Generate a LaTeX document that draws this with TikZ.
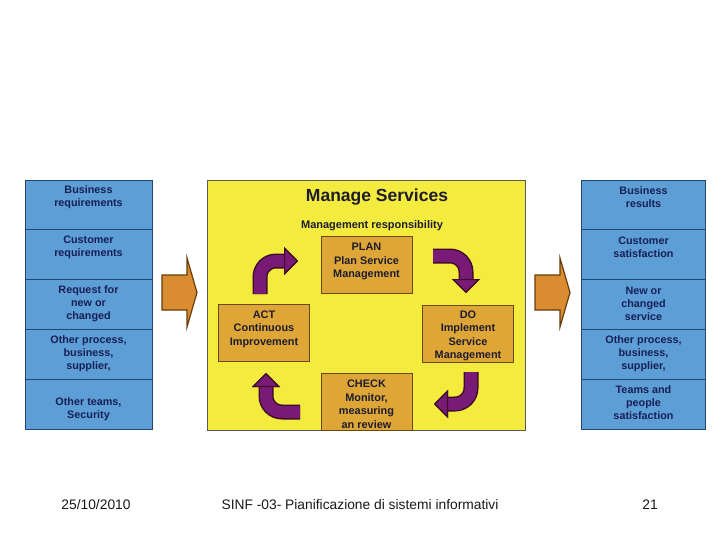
\documentclass[tikz,border=0pt]{standalone}
\usepackage{fontspec}
\setmainfont{Liberation Sans}
\usetikzlibrary{arrows.meta}
\definecolor{boxblue}{RGB}{93,158,214}
\definecolor{boxblueline}{RGB}{35,70,115}
\definecolor{navytext}{RGB}{22,32,85}
\definecolor{yellowbg}{RGB}{243,235,62}
\definecolor{goldbox}{RGB}{222,166,55}
\definecolor{goldline}{RGB}{105,72,20}
\definecolor{darktext}{RGB}{30,28,45}
\definecolor{purp}{RGB}{120,26,118}
\definecolor{purpdark}{RGB}{62,12,40}
\definecolor{orangearr}{RGB}{218,140,48}
\definecolor{orangeline}{RGB}{100,62,15}
\definecolor{foottext}{RGB}{25,25,25}
\tikzset{
  rowbox/.style={draw=boxblueline, line width=0.8pt, fill=boxblue, minimum width=127pt, minimum height=49.8pt, inner sep=0pt},
  rowtext/.style={text=navytext, font=\bfseries\fontsize{10.8}{13}\selectfont, align=center, inner sep=0pt},
  goldbx/.style={draw=goldline, line width=1pt, fill=goldbox, minimum width=91pt, minimum height=57pt, inner sep=0pt},
  goldtext/.style={text=darktext, font=\bfseries\fontsize{10.9}{13.5}\selectfont, align=center, inner sep=0pt},
  cyctip/.tip={Triangle[length=14pt,width=28pt,line width=1.2pt,color=purpdark,fill=purp]},
  cyc/.style={draw=purp, line width=12pt, rounded corners=16pt, -{cyctip},
    preaction={draw=purpdark, line width=15pt, -{cyctip}}},
  oarrow/.style={draw=orangeline, line width=1.2pt, fill=orangearr, line join=miter},
  foot/.style={text=foottext, font=\fontsize{13.8}{16}\selectfont, anchor=base, inner sep=0pt}
}
\begin{document}
\begin{tikzpicture}[x=1pt,y=-1pt]
\useasboundingbox (0,0) rectangle (720,540);
\fill[white] (0,0) rectangle (720,540);

% left column
\node[rowbox] (L1) at (88.5,204.9) {};
\node[rowbox] (L2) at (88.5,254.7) {};
\node[rowbox] (L3) at (88.5,304.5) {};
\node[rowbox] (L4) at (88.5,354.3) {};
\node[rowbox] (L5) at (88.5,404.1) {};
\node[rowtext] (L1t) at (88.5,197) {Business\\requirements};
\node[rowtext] (L2t) at (88.5,247) {Customer\\requirements};
\node[rowtext] (L3t) at (88.5,303.5) {Request for\\new or\\changed};
\node[rowtext] (L4t) at (88.5,354) {Other process,\\business,\\supplier,};
\node[rowtext] (L5t) at (88.5,409) {Other teams,\\Security};

% right column
\node[rowbox, minimum width=124pt] (R1) at (643.5,204.9) {};
\node[rowbox, minimum width=124pt] (R2) at (643.5,254.7) {};
\node[rowbox, minimum width=124pt] (R3) at (643.5,304.5) {};
\node[rowbox, minimum width=124pt] (R4) at (643.5,354.3) {};
\node[rowbox, minimum width=124pt] (R5) at (643.5,404.1) {};
\node[rowtext] (R1t) at (643.5,197) {Business\\results};
\node[rowtext] (R2t) at (643.5,247) {Customer\\satisfaction};
\node[rowtext] (R3t) at (643.5,304) {New or\\changed\\service};
\node[rowtext] (R4t) at (643.5,354) {Other process,\\business,\\supplier,};
\node[rowtext] (R5t) at (643.5,403) {Teams and\\people\\satisfaction};

% central yellow box
\node[draw=black!65, line width=0.8pt, fill=yellowbg, minimum width=318pt, minimum height=250pt, inner sep=0pt] (MS) at (366,305) {};
\node[text=darktext, font=\bfseries\fontsize{17.5}{20}\selectfont, anchor=base, inner sep=0pt] (title) at (377,202) {Manage Services};
\node[text=darktext, font=\bfseries\fontsize{11}{13}\selectfont, anchor=base, inner sep=0pt] (resp) at (372,229) {Management responsibility};

% PDCA boxes
\node[goldbx] (PLAN) at (366.5,265) {};
\node[goldtext] at (366.5,261.5) {PLAN\\Plan Service\\Management};
\node[goldbx] (ACT) at (264,332.5) {};
\node[goldtext] at (264,329) {ACT\\Continuous\\Improvement};
\node[goldbx] (DO) at (468,333.5) {};
\node[goldtext] at (468,336) {DO\\Implement\\Service\\Management};
\node[goldbx] (CHECK) at (366.5,401.5) {};
\node[goldtext] at (366.5,404) {CHECK\\Monitor,\\measuring\\an review};

% cycle arrows
\coordinate (a1s) at (260,294);  \coordinate (a1e) at (298,261);
\coordinate (a2s) at (433,256);  \coordinate (a2e) at (466,293);
\coordinate (a3s) at (471,372);  \coordinate (a3e) at (434,404);
\coordinate (a4s) at (300,412);  \coordinate (a4e) at (266,373);
\draw[cyc] (a1s) |- (a1e);
\draw[cyc] (a2s) -| (a2e);
\draw[cyc] (a3s) |- (a3e);
\draw[cyc] (a4s) -| (a4e);

% big orange arrows
\draw[oarrow] (162,275) -- (187,275) -- (187,258) -- (197,292.5) -- (187,327) -- (187,310) -- (162,310) -- cycle;
\draw[oarrow] (535,275) -- (560,275) -- (560,258) -- (570,292.5) -- (560,327) -- (560,310) -- (535,310) -- cycle;

% footer
\node[foot] (date) at (96,509) {25/10/2010};
\node[foot] (course) at (360,509) {SINF -03- Pianificazione di sistemi informativi};
\node[foot] (page) at (650,509) {21};
\end{tikzpicture}
\end{document}
